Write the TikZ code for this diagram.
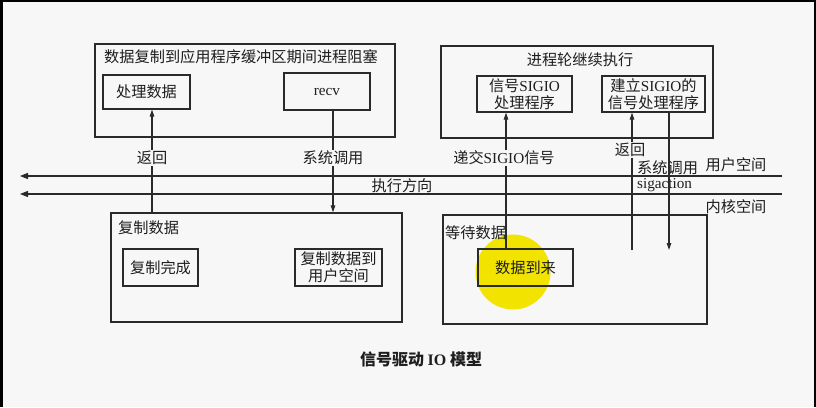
\documentclass[tikz,border=0pt]{standalone}
\usepackage{fontspec}
\setmainfont{Noto Sans CJK SC}
\newfontfamily\lat{Liberation Serif}
\usepackage{tikz}
\usetikzlibrary{arrows.meta,positioning}
\definecolor{ioInk}{HTML}{1E1E1E}
\definecolor{ioLine}{HTML}{2A2A2A}
\definecolor{ioPaper}{HTML}{F7F7F7}
\definecolor{ioMark}{HTML}{F2E400}
\tikzset{
  io diagram/.style={font=\fontsize{15.2}{17}\selectfont, text=ioInk},
  io frame/.style={draw=ioLine, line width=1.3pt, inner sep=0pt},
  io box/.style={draw=ioLine, line width=1.2pt, align=center, inner sep=1pt},
  io title/.style={anchor=west, inner sep=1pt},
  io arrow/.style={-{Triangle[length=7pt,width=4.5pt]}, draw=ioLine, line width=1.1pt},
  io axis/.style={-{Triangle[length=8pt,width=6pt]}, draw=ioLine, line width=1.1pt},
  io label/.style={fill=ioPaper, inner sep=1pt},
  io caption/.style={font=\fontsize{16}{18}\selectfont\bfseries}
}
\begin{document}
\begin{tikzpicture}[io diagram,x=1pt,y=-1pt]
\fill[ioPaper] (0,0) rectangle (816,407);
\fill[black] (0,0) rectangle (816,2);
\fill[black] (0,0) rectangle (3,407);
\fill[black] (814,0) rectangle (816,407);
\fill[ioMark] (513,272) circle (37.5pt);

% user side
\node[io frame, minimum width=300pt, minimum height=93pt] (blocked) at (245,90.5) {};
\node[io title] (blockedtitle) at (103,57) {数据复制到应用程序缓冲区期间进程阻塞};
\node[io box, minimum width=87pt, minimum height=34pt] (proc) at (146.5,92) {处理数据};
\node[io box, minimum width=86pt, minimum height=37pt] (recv) at (327,91.5) {{\lat recv}};
\node[io frame, minimum width=272pt, minimum height=92pt] (resume) at (577,92) {};
\node (resumetitle) at (580,60) {进程轮继续执行};
\node[io box, minimum width=95pt, minimum height=36pt] (handler) at (524.5,94) {信号{\lat SIGIO}\\处理程序};
\node[io box, minimum width=103pt, minimum height=36pt] (setup) at (653.5,94) {建立{\lat SIGIO}的\\信号处理程序};

% kernel side
\node[io frame, minimum width=291pt, minimum height=109pt] (copy) at (256.5,267.5) {};
\node[io title] (copytitle) at (117,228) {复制数据};
\node[io box, minimum width=75pt, minimum height=37pt] (done) at (160.5,267.5) {复制完成};
\node[io box, minimum width=87pt, minimum height=37pt] (touser) at (338.5,267.5) {复制数据到\\用户空间};
\node[io frame, minimum width=264pt, minimum height=109pt] (wait) at (575,269.5) {};
\node[io title] (waittitle) at (444,233) {等待数据};
\node[io box, minimum width=95pt, minimum height=37pt] (arrive) at (525.5,267.5) {数据到来};

% boundary lines
\foreach \n/\y in {user/176,kernel/194}{
  \coordinate (\n R) at (782,\y);
  \coordinate (\n L) at (20,\y);
  \draw[io axis] (\n R) -- (\n L);
}
\node (userspace) at (736,165) {用户空间};
\node (kernelspace) at (736,207) {内核空间};
\node (direction) at (402,186) {执行方向};

% calls and returns
\coordinate (retL) at (152,0);
\coordinate (callL) at (333,0);
\coordinate (signal) at (506,0);
\coordinate (retR) at (632,250);
\coordinate (callR) at (669,250);
\draw[io arrow] (copy.north -| retL) -- (proc.south -| retL);
\node[io label] (retLtext) at (152,158) {返回};
\draw[io arrow] (recv.south -| callL) -- (copy.north -| callL);
\node[io label] (callLtext) at (333,158) {系统调用};
\draw[io arrow] (arrive.north -| signal) -- (handler.south -| signal);
\node[io label] (signaltext) at (504,158) {递交{\lat SIGIO}信号};
\draw[io arrow] (retR) -- (setup.south -| retR);
\node[io label] (retRtext) at (630,150) {返回};
\node[io title] (callRtext) at (636,168) {系统调用};
\node[io title] (sigaction) at (636,185) {{\lat sigaction}};
\draw[io arrow] (setup.south -| callR) -- (callR);

\node[io caption] (caption) at (421,359) {信号驱动 {\lat IO} 模型};
\end{tikzpicture}
\end{document}
